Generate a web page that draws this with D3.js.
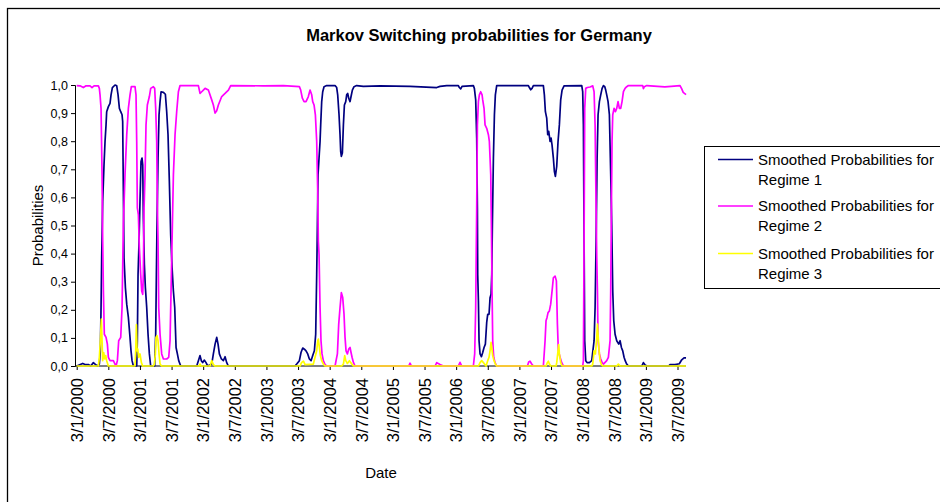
<!DOCTYPE html>
<html>
<head>
<meta charset="utf-8">
<script src="https://cdn.jsdelivr.net/npm/d3@7"></script>
<style>
  html, body { margin: 0; padding: 0; background: #fff; }
  svg { display: block; font-family: "Liberation Sans", Arial, sans-serif; }
</style>
</head>
<body>
<svg id="chart" width="940" height="502"></svg>
<script>
// Smoothed regime probabilities, time in decimal years (2000.0 = 3 Jan 2000)
const regime1 = [
[2000.000,0],[2000.095,0.009],[2000.132,0.005],[2000.184,0.005],[2000.221,0],[2000.264,0.012],[2000.290,0.007],[2000.327,0],[2000.358,0.007],[2000.374,0.054],[2000.385,0.208],[2000.395,0.385],[2000.411,0.586],[2000.432,0.716],[2000.448,0.799],[2000.464,0.858],[2000.474,0.905],[2000.501,0.923],[2000.527,0.935],[2000.543,0.965],[2000.564,0.991],[2000.606,1.0],[2000.633,0.997],[2000.654,0.965],[2000.675,0.917],[2000.696,0.905],[2000.717,0.894],[2000.727,0.870],[2000.738,0.622],[2000.748,0.385],[2000.770,0.279],[2000.791,0.220],[2000.817,0.173],[2000.843,0.102],[2000.859,0.054],[2000.875,0.019],[2000.896,0],[2000.949,0],[2000.959,0.090],[2000.970,0.326],[2000.986,0.444],[2001.001,0.586],[2001.017,0.728],[2001.033,0.740],[2001.044,0.716],[2001.054,0.527],[2001.070,0.362],[2001.086,0.279],[2001.107,0.208],[2001.128,0.113],[2001.149,0.043],[2001.170,0],[2001.233,0],[2001.249,0.113],[2001.260,0.326],[2001.270,0.504],[2001.286,0.740],[2001.302,0.894],[2001.318,0.941],[2001.334,0.976],[2001.371,0.974],[2001.402,0.967],[2001.423,0.905],[2001.444,0.823],[2001.465,0.657],[2001.486,0.468],[2001.508,0.350],[2001.529,0.267],[2001.550,0.208],[2001.571,0.066],[2001.592,0.043],[2001.613,0.019],[2001.645,0],[2001.898,0],[2001.924,0.019],[2001.950,0.037],[2001.971,0.019],[2001.992,0.012],[2002.019,0.021],[2002.045,0.012],[2002.072,0],[2002.135,0.007],[2002.161,0.043],[2002.188,0.078],[2002.214,0.102],[2002.235,0.078],[2002.256,0.043],[2002.288,0.025],[2002.319,0.019],[2002.346,0.033],[2002.372,0.012],[2002.398,0],
[2003.453,0],[2003.479,0.007],[2003.521,0.019],[2003.547,0.048],[2003.574,0.064],[2003.600,0.060],[2003.626,0.054],[2003.653,0.043],[2003.679,0.025],[2003.706,0.019],[2003.732,0.037],[2003.758,0.054],[2003.779,0.113],[2003.795,0.326],[2003.806,0.504],[2003.816,0.681],[2003.832,0.740],[2003.848,0.799],[2003.858,0.858],[2003.874,0.941],[2003.890,0.976],[2003.911,0.994],[2003.953,0.998],[2004.085,0.998],[2004.111,0.991],[2004.127,0.965],[2004.148,0.894],[2004.164,0.823],[2004.174,0.764],[2004.185,0.746],[2004.201,0.758],[2004.217,0.858],[2004.233,0.929],[2004.254,0.941],[2004.269,0.965],[2004.285,0.970],[2004.301,0.953],[2004.322,0.941],[2004.338,0.959],[2004.359,0.982],[2004.385,0.994],[2004.427,0.998],[2004.533,0.995],[2004.797,0.997],[2005.271,0.995],[2005.693,0.991],[2005.745,0.995],[2005.851,0.998],[2006.035,0.998],[2006.051,0.991],[2006.072,0.986],[2006.093,0.995],[2006.272,0.998],[2006.288,0.988],[2006.309,0.947],[2006.325,0.811],[2006.336,0.563],[2006.341,0.326],[2006.352,0.232],[2006.362,0.090],[2006.378,0.043],[2006.399,0.033],[2006.420,0.048],[2006.441,0.066],[2006.462,0.078],[2006.483,0.155],[2006.499,0.184],[2006.520,0.184],[2006.536,0.243],[2006.552,0.255],[2006.563,0.326],[2006.573,0.504],[2006.589,0.740],[2006.605,0.894],[2006.620,0.965],[2006.641,0.998],[2007.142,0.998],[2007.158,0.991],[2007.179,0.983],[2007.200,0.988],[2007.221,0.998],[2007.379,0.998],[2007.395,0.965],[2007.411,0.905],[2007.432,0.882],[2007.448,0.823],[2007.464,0.835],[2007.485,0.799],[2007.501,0.811],[2007.516,0.787],[2007.537,0.740],[2007.553,0.693],[2007.569,0.675],[2007.590,0.710],[2007.611,0.799],[2007.632,0.858],[2007.653,0.947],[2007.675,0.982],[2007.706,0.997],[2007.986,0.998],[2008.001,0.976],[2008.012,0.858],[2008.023,0.444],[2008.033,0.090],[2008.049,0.019],[2008.070,0.012],[2008.107,0.012],[2008.144,0.019],[2008.181,0.090],[2008.197,0.208],[2008.213,0.444],[2008.229,0.740],[2008.244,0.894],[2008.265,0.941],[2008.286,0.965],[2008.308,0.988],[2008.329,0.998],[2008.350,0.994],[2008.365,0.982],[2008.381,0.965],[2008.402,0.941],[2008.423,0.894],[2008.444,0.681],[2008.460,0.504],[2008.476,0.267],[2008.492,0.161],[2008.513,0.113],[2008.539,0.090],[2008.571,0.078],[2008.592,0.090],[2008.613,0.066],[2008.634,0.054],[2008.655,0.031],[2008.676,0.017],[2008.697,0.007],[2008.724,0],[2008.935,0],[2008.961,0.012],[2008.982,0.005],[2009.014,0],[2009.360,0],[2009.382,0.005],[2009.461,0.005],[2009.529,0.008],[2009.567,0.022],[2009.603,0.029],[2009.635,0.029]
];

const regime2 = [
[2000.000,0.998],[2000.053,0.997],[2000.105,0.991],[2000.148,0.997],[2000.211,0.997],[2000.242,0.991],[2000.274,0.997],[2000.343,0.997],[2000.358,0.988],[2000.369,0.965],[2000.385,0.917],[2000.401,0.681],[2000.411,0.444],[2000.422,0.267],[2000.437,0.113],[2000.464,0.102],[2000.485,0.078],[2000.501,0.031],[2000.527,0.019],[2000.580,0.019],[2000.606,0.007],[2000.622,0],[2000.643,0.019],[2000.664,0.090],[2000.696,0.102],[2000.717,0.208],[2000.738,0.504],[2000.764,0.681],[2000.791,0.823],[2000.817,0.917],[2000.843,0.965],[2000.864,0.994],[2000.922,0.994],[2000.938,0.965],[2000.949,0.799],[2000.959,0.563],[2000.975,0.539],[2000.991,0.421],[2001.012,0.326],[2001.028,0.267],[2001.044,0.255],[2001.054,0.326],[2001.065,0.563],[2001.081,0.681],[2001.096,0.858],[2001.117,0.929],[2001.149,0.959],[2001.170,0.988],[2001.212,0.994],[2001.233,0.988],[2001.249,0.917],[2001.265,0.799],[2001.276,0.563],[2001.286,0.444],[2001.297,0.208],[2001.318,0.113],[2001.344,0.043],[2001.371,0.025],[2001.423,0.025],[2001.455,0.031],[2001.476,0.090],[2001.497,0.326],[2001.513,0.504],[2001.529,0.681],[2001.555,0.823],[2001.581,0.905],[2001.608,0.976],[2001.634,0.998],[2001.924,0.998],[2001.950,0.970],[2001.977,0.976],[2002.003,0.982],[2002.030,0.988],[2002.082,0.982],[2002.135,0.947],[2002.161,0.929],[2002.188,0.900],[2002.214,0.908],[2002.240,0.929],[2002.293,0.959],[2002.346,0.970],[2002.399,0.982],[2002.435,0.998],[2002.952,0.997],[2003.268,0.998],[2003.521,0.994],[2003.542,0.982],[2003.568,0.953],[2003.595,0.941],[2003.626,0.941],[2003.663,0.959],[2003.690,0.982],[2003.716,0.965],[2003.732,0.941],[2003.753,0.929],[2003.774,0.894],[2003.795,0.799],[2003.811,0.622],[2003.821,0.444],[2003.832,0.397],[2003.848,0.208],[2003.863,0.090],[2003.879,0.043],[2003.900,0.019],[2003.927,0.005],[2003.953,0],[2004.085,0],[2004.101,0.019],[2004.122,0.043],[2004.143,0.149],[2004.164,0.208],[2004.185,0.261],[2004.206,0.244],[2004.227,0.184],[2004.243,0.102],[2004.259,0.054],[2004.280,0.043],[2004.301,0.060],[2004.322,0.066],[2004.338,0.048],[2004.354,0.031],[2004.375,0.013],[2004.401,0],[2005.250,0],[2005.271,0.010],[2005.292,0],[2005.667,0],[2005.693,0.012],[2005.745,0.005],[2005.798,0],[2006.035,0],[2006.061,0.013],[2006.088,0],[2006.272,0],[2006.293,0.043],[2006.309,0.208],[2006.325,0.563],[2006.336,0.858],[2006.352,0.941],[2006.367,0.965],[2006.388,0.976],[2006.410,0.965],[2006.420,0.947],[2006.441,0.917],[2006.457,0.858],[2006.483,0.846],[2006.510,0.823],[2006.525,0.799],[2006.536,0.740],[2006.547,0.681],[2006.557,0.504],[2006.568,0.267],[2006.578,0.090],[2006.594,0.031],[2006.615,0.012],[2006.641,0],[2007.127,0],[2007.147,0.014],[2007.168,0.017],[2007.195,0.007],[2007.221,0],[2007.379,0],[2007.406,0.090],[2007.421,0.161],[2007.437,0.173],[2007.453,0.190],[2007.474,0.196],[2007.495,0.220],[2007.522,0.279],[2007.537,0.314],[2007.564,0.320],[2007.585,0.303],[2007.601,0.149],[2007.616,0.054],[2007.643,0.031],[2007.669,0.012],[2007.696,0],[2008.001,0],[2008.012,0.019],[2008.023,0.444],[2008.033,0.917],[2008.049,0.988],[2008.075,0.991],[2008.117,0.993],[2008.160,0.997],[2008.181,0.976],[2008.197,0.858],[2008.213,0.563],[2008.223,0.385],[2008.234,0.267],[2008.244,0.090],[2008.265,0.043],[2008.286,0.025],[2008.308,0.012],[2008.329,0.007],[2008.355,0.013],[2008.381,0.019],[2008.407,0.031],[2008.434,0.090],[2008.444,0.267],[2008.455,0.563],[2008.465,0.799],[2008.476,0.894],[2008.497,0.917],[2008.518,0.905],[2008.539,0.917],[2008.560,0.941],[2008.581,0.917],[2008.602,0.917],[2008.623,0.941],[2008.645,0.976],[2008.671,0.988],[2008.697,0.994],[2008.724,0.998],[2008.950,0.998],[2008.961,0.987],[2008.975,0.994],[2009.014,0.998],[2009.300,0.993],[2009.400,0.995],[2009.540,0.998],[2009.567,0.986],[2009.590,0.974],[2009.635,0.966]
];

const regime3 = [
[2000.000,0],[2000.343,0],[2000.358,0.031],[2000.374,0.090],[2000.390,0.167],[2000.401,0.090],[2000.411,0.019],[2000.427,0.048],[2000.443,0.025],[2000.459,0.037],[2000.474,0.019],[2000.501,0],[2000.922,0],[2000.933,0.054],[2000.944,0.147],[2000.954,0.054],[2000.965,0.060],[2000.980,0.031],[2001.001,0.043],[2001.023,0.012],[2001.044,0],[2001.212,0],[2001.228,0.007],[2001.244,0.043],[2001.254,0.102],[2001.270,0.108],[2001.286,0.090],[2001.302,0.043],[2001.318,0.007],[2001.344,0],[2001.940,0],[2001.950,0.007],[2001.966,0],[2002.108,0],[2002.135,0.019],[2002.161,0.005],[2002.188,0],[2003.532,0],[2003.558,0.013],[2003.585,0.017],[2003.611,0.005],[2003.742,0.007],[2003.769,0.031],[2003.795,0.054],[2003.811,0.090],[2003.821,0.096],[2003.837,0.066],[2003.853,0.037],[2003.874,0.019],[2003.900,0.007],[2003.927,0],[2004.190,0],[2004.217,0.007],[2004.238,0.037],[2004.254,0.019],[2004.280,0.009],[2004.312,0.019],[2004.333,0.012],[2004.375,0],[2006.352,0],[2006.378,0.012],[2006.404,0.019],[2006.431,0.012],[2006.473,0],[2006.499,0.019],[2006.520,0.031],[2006.536,0.054],[2006.552,0.084],[2006.563,0.066],[2006.578,0.037],[2006.599,0.019],[2006.620,0.007],[2006.641,0],[2007.421,0],[2007.442,0.012],[2007.458,0.017],[2007.474,0.007],[2007.495,0],[2007.580,0],[2007.590,0.012],[2007.611,0.054],[2007.622,0.076],[2007.632,0.043],[2007.653,0.012],[2007.675,0],[2008.144,0],[2008.160,0.007],[2008.181,0.054],[2008.202,0.043],[2008.223,0.102],[2008.234,0.149],[2008.244,0.113],[2008.260,0.054],[2008.276,0.019],[2008.297,0.005],[2008.318,0],[2008.539,0],[2008.565,0.007],[2008.592,0],[2009.635,0]
];

// Half-yearly tick labels (day/month/year)
const tickLabels = ["3/1/2000","3/7/2000","3/1/2001","3/7/2001","3/1/2002","3/7/2002","3/1/2003","3/7/2003","3/1/2004","3/7/2004","3/1/2005","3/7/2005","3/1/2006","3/7/2006","3/1/2007","3/7/2007","3/1/2008","3/7/2008","3/1/2009","3/7/2009"];
const tickYears = tickLabels.map((d, i) => 2000 + i / 2);

const seriesNames = ["Smoothed Probabilities for Regime 1", "Smoothed Probabilities for Regime 2", "Smoothed Probabilities for Regime 3"];
const seriesColors = ["#000080", "#FF00FF", "#FFFF00"];
const series = [regime1, regime2, regime3];

const svg = d3.select("#chart");

// outer chart frame
svg.append("rect")
  .attr("x", 7.5).attr("y", 8.5)
  .attr("width", 1000).attr("height", 600)
  .attr("fill", "#fff").attr("stroke", "#000").attr("stroke-width", 1.3);

const plot = { left: 75, right: 686, top: 85, bottom: 366 };

const x = d3.scaleLinear().domain([2000, 2009.5]).range([76.7, 677.5]);
const y = d3.scaleLinear().domain([0, 1]).range([plot.bottom, plot.top]);

// title
svg.append("text")
  .attr("x", 479).attr("y", 41)
  .attr("text-anchor", "middle")
  .attr("font-size", 16.5).attr("font-weight", "bold")
  .text("Markov Switching probabilities for Germany");

// y axis
const commaFmt = d3.formatLocale({ decimal: ",", thousands: ".", grouping: [3], currency: ["", ""] }).format(".1f");
const yAxis = d3.axisLeft(y)
  .tickValues(d3.range(0, 11).map(i => i / 10))
  .tickFormat(commaFmt)
  .tickSizeOuter(0).tickSize(4).tickPadding(3);
const gy = svg.append("g").attr("transform", `translate(${plot.left},0)`).call(yAxis);
gy.select(".domain").attr("stroke", "#000");
gy.selectAll("text").attr("font-size", 12.5).attr("fill", "#000").attr("font-family", null);

// x axis
const xAxis = d3.axisBottom(x)
  .tickValues(tickYears)
  .tickFormat((d, i) => tickLabels[i])
  .tickSizeOuter(0).tickSize(4);
const gx = svg.append("g").attr("transform", `translate(0,${plot.bottom})`).call(xAxis);
gx.select(".domain").attr("d", `M${plot.left},0H${plot.right}`).attr("stroke", "#000");
gx.selectAll("text")
  .attr("font-size", 16.5).attr("fill", "#000").attr("font-family", null)
  .attr("text-anchor", "end")
  .attr("transform", "translate(0,12) rotate(-90)")
  .attr("x", 0).attr("y", 0).attr("dy", "0.35em");

// axis titles
svg.append("text")
  .attr("x", 381).attr("y", 478)
  .attr("text-anchor", "middle").attr("font-size", 15)
  .text("Date");
svg.append("text")
  .attr("transform", `translate(43,${(plot.top + plot.bottom) / 2}) rotate(-90)`)
  .attr("text-anchor", "middle").attr("font-size", 15)
  .text("Probabilities");

// series lines
const line = d3.line().x(d => x(d[0])).y(d => y(d[1]));
series.forEach((s, i) => {
  svg.append("path")
    .datum(s)
    .attr("d", line)
    .attr("fill", "none")
    .attr("stroke", seriesColors[i])
    .attr("stroke-width", 1.7)
    .attr("stroke-linejoin", "round");
});

// legend
const legend = svg.append("g");
legend.append("rect")
  .attr("x", 704.5).attr("y", 146.5)
  .attr("width", 300).attr("height", 142)
  .attr("fill", "#fff").attr("stroke", "#000").attr("stroke-width", 1);
const legendRows = [159.5, 206, 253.5];
seriesNames.forEach((name, i) => {
  const ly = legendRows[i];
  legend.append("line")
    .attr("x1", 718).attr("x2", 753)
    .attr("y1", ly).attr("y2", ly)
    .attr("stroke", seriesColors[i]).attr("stroke-width", 1.6);
  const words = name.split(" ");
  const t = legend.append("text").attr("font-size", 15);
  t.append("tspan").attr("x", 758).attr("y", ly + 5.2).text(words.slice(0, 3).join(" "));
  t.append("tspan").attr("x", 758).attr("y", ly + 25.2).text(words.slice(3).join(" "));
});
</script>
</body>
</html>
